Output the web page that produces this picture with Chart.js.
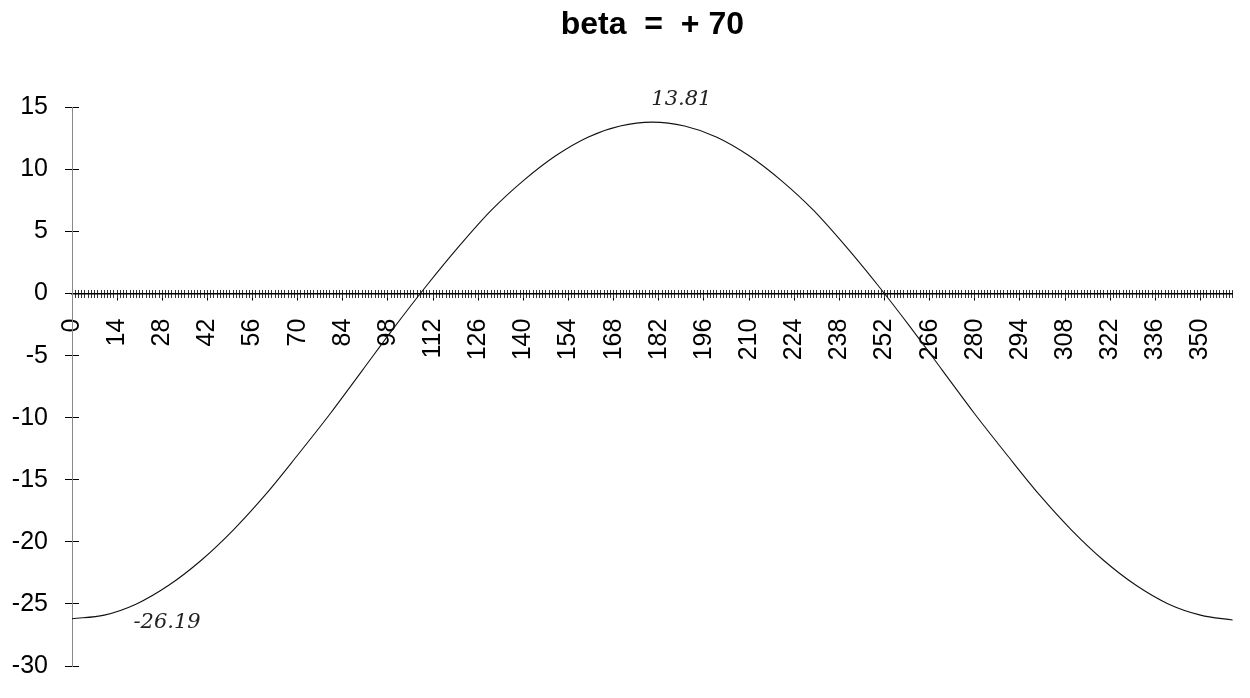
<!DOCTYPE html>
<html>
<head>
<meta charset="utf-8">
<script src="https://cdn.jsdelivr.net/npm/chart.js@4/dist/chart.umd.min.js"></script>
<style>
  html, body { margin: 0; padding: 0; background: #fff; }
  canvas { display: block; }
</style>
</head>
<body>
<canvas id="c" width="1250" height="698"></canvas>
<script>
// ---- data ----
const titleText = "beta  =  + 70";
const xValues = [0, 10, 20, 30, 40, 50, 60, 70, 80, 90, 100, 110, 120, 130, 140, 150, 160, 170, 180,
                 190, 200, 210, 220, 230, 240, 250, 260, 270, 280, 290, 300, 310, 320, 330, 340, 350, 360];
const yValues = [-26.19, -25.9, -25.0, -23.5, -21.5, -19.05, -16.2, -13.0, -9.7, -6.2, -2.7, 0.65, 3.8,
                 6.7, 9.1, 11.1, 12.6, 13.5, 13.81, 13.5, 12.6, 11.1, 9.1, 6.7, 3.8, 0.65, -2.7, -6.2,
                 -9.7, -13.0, -16.2, -19.05, -21.5, -23.5, -25.0, -25.9, -26.3];
const xTickLabels = [0, 14, 28, 42, 56, 70, 84, 98, 112, 126, 140, 154, 168, 182, 196, 210, 224,
                     238, 252, 266, 280, 294, 308, 322, 336, 350];
const yTickLabels = [-30, -25, -20, -15, -10, -5, 0, 5, 10, 15];
const noteTexts = ["13.81", "-26.19"];
const noteX = [189, 29.5];
const noteY = [15.6, -26.5];

const points = xValues.map((x, i) => ({ x: x, y: yValues[i] }));
const FONT = "'Liberation Sans', Arial, sans-serif";

const notesPlugin = {
  id: 'notes',
  afterDraw(chart) {
    const ctx = chart.ctx;
    const xs = chart.scales.x, ys = chart.scales.y;
    ctx.save();
    ctx.font = "italic 21px 'DejaVu Serif', serif";
    ctx.fillStyle = '#222';
    ctx.textAlign = 'center';
    ctx.textBaseline = 'middle';
    noteTexts.forEach((t, i) => {
      ctx.fillText(t, xs.getPixelForValue(noteX[i]), ys.getPixelForValue(noteY[i]));
    });
    ctx.restore();
  }
};

new Chart(document.getElementById('c'), {
  type: 'line',
  data: {
    datasets: [{
      data: points,
      borderColor: '#111',
      borderWidth: 1.1,
      pointRadius: 0,
      fill: false,
      cubicInterpolationMode: 'monotone',
      xAxisID: 'x',
      yAxisID: 'y'
    }]
  },
  options: {
    responsive: false,
    animation: false,
    devicePixelRatio: 1,
    layout: { padding: { left: 0, right: 10, top: 0, bottom: 29 } },
    plugins: {
      legend: { display: false },
      tooltip: { enabled: false },
      title: {
        display: true,
        text: titleText,
        fullSize: false,
        color: '#000',
        font: { family: FONT, size: 32, weight: 'bold' },
        padding: { top: 6, bottom: 63 }
      }
    },
    scales: {
      x: {
        type: 'linear',
        min: 0, max: 360,
        position: { y: 0 },
        afterBuildTicks: (axis) => { axis.ticks = xTickLabels.map(v => ({ value: v })); },
        afterFit: (axis) => { axis.height = 0; },
        ticks: {
          autoSkip: false,
          minRotation: 90, maxRotation: 90,
          padding: 19,
          color: '#000',
          font: { family: FONT, size: 25 }
        },
        grid: { drawOnChartArea: false, tickLength: 6, color: '#000', lineWidth: 1 },
        border: { display: true, color: '#000', width: 1.5 }
      },
      xMinorDown: {
        type: 'linear',
        axis: 'x',
        min: 0, max: 360,
        position: { y: 0 },
        afterFit: (axis) => { axis.height = 0; },
        ticks: { display: false, stepSize: 1 },
        grid: { drawOnChartArea: false, tickLength: 4, color: '#333', lineWidth: 1 },
        border: { display: false }
      },
      xMinorUp: {
        type: 'linear',
        axis: 'x',
        min: 0, max: 360,
        position: { y: 0 },
        afterFit: (axis) => { axis.height = 0; },
        ticks: { display: false, stepSize: 1 },
        grid: { drawOnChartArea: false, tickLength: -4, color: '#333', lineWidth: 1 },
        border: { display: false }
      },
      y: {
        type: 'linear',
        position: 'left',
        min: -30, max: 15,
        afterBuildTicks: (axis) => { axis.ticks = yTickLabels.map(v => ({ value: v })); },
        afterFit: (axis) => { axis.width = 72; },
        ticks: {
          padding: 17,
          color: '#000',
          font: { family: FONT, size: 25 }
        },
        grid: { drawOnChartArea: false, tickLength: 7, color: '#000', lineWidth: 1 },
        border: { display: true, color: '#888', width: 1, dash: [3, 3] }
      },
      yRight: {
        type: 'linear',
        axis: 'y',
        position: { x: 0 },
        min: -30, max: 15,
        afterBuildTicks: (axis) => { axis.ticks = yTickLabels.map(v => ({ value: v })); },
        afterFit: (axis) => { axis.width = 0; },
        ticks: { display: false },
        grid: { drawOnChartArea: false, tickLength: -7, color: '#000', lineWidth: 1 },
        border: { display: false }
      }
    }
  },
  plugins: [notesPlugin]
});
</script>
</body>
</html>
